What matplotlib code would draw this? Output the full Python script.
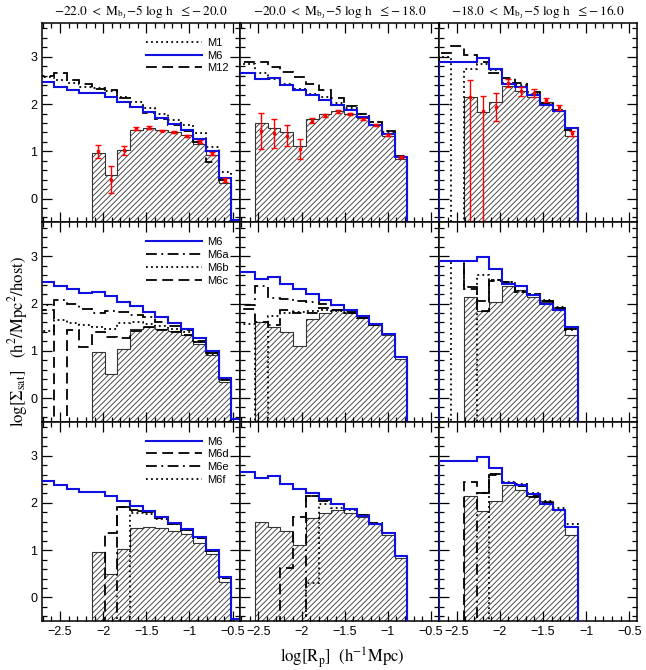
import numpy as np
import matplotlib
matplotlib.use("Agg")
import matplotlib.pyplot as plt
from matplotlib.lines import Line2D
from matplotlib.ticker import MultipleLocator, FuncFormatter

plt.rcParams["font.family"] = ["Liberation Sans", "DejaVu Sans"]
plt.rcParams["mathtext.fontset"] = "stix"
plt.rcParams["hatch.linewidth"] = 0.6

# bin edges in log R_p for each magnitude column
W = 0.147
edges0 = np.round(-2.719 + W * np.arange(17), 3)
edges1 = np.concatenate([[-2.80], np.round(-2.538 + W * np.arange(13), 3)])
edges2 = np.round(-2.71 + W * np.arange(12), 3)
EDGES = [edges0, edges1, edges2]

titles = [r"$-22.0\ <\ \mathrm{M}_{\mathrm{b_J}}\!-\!5\ \mathrm{log}\ \mathrm{h}\ \ \leq\!-20.0$",
          r"$-20.0\ <\ \mathrm{M}_{\mathrm{b_J}}\!-\!5\ \mathrm{log}\ \mathrm{h}\ \ \leq\!-18.0$",
          r"$-18.0\ <\ \mathrm{M}_{\mathrm{b_J}}\!-\!5\ \mathrm{log}\ \mathrm{h}\ \ \leq\!-16.0$"]

# -1 = below the plotted range
# hatched (data) histogram, same in every row
hatch_c0 = [-1, -1, -1, -1, 0.97, 0.5, 1.03, 1.46, 1.5, 1.46, 1.41, 1.34, 1.15, 0.92, 0.33, -1]
hatch_c1 = [-1, 1.6, 1.5, 1.4, 1.11, 1.68, 1.79, 1.86, 1.79, 1.7, 1.55, 1.33, 0.83]
hatch_c2 = [-1, -1, 2.14, 1.84, 2.04, 2.38, 2.28, 2.14, 2.04, 1.86, 1.33]

# red error bars (top row)
red_bins_c0 = [4, 5, 6, 7, 8, 9, 10, 11, 12, 13, 14]
red_y_c0 = [1.0, 0.4, 1.02, 1.48, 1.5, 1.44, 1.4, 1.32, 1.2, 0.95, 0.4]
red_lo_c0 = [0.14, 0.28, 0.1, 0.03, 0.03, 0.02, 0.02, 0.02, 0.03, 0.03, 0.04]
red_hi_c0 = red_lo_c0
red_bins_c1 = [1, 2, 3, 4, 5, 6, 7, 8, 9, 10, 11, 12]
red_y_c1 = [1.43, 1.38, 1.33, 1.05, 1.65, 1.76, 1.84, 1.79, 1.69, 1.55, 1.35, 0.88]
red_lo_c1 = [0.39, 0.3, 0.22, 0.22, 0.05, 0.04, 0.03, 0.02, 0.02, 0.02, 0.02, 0.02]
red_hi_c1 = red_lo_c1
red_bins_c2 = [2, 3, 4, 5, 6, 7, 8, 9, 10]
red_y_c2 = [2.15, 1.85, 1.94, 2.45, 2.27, 2.23, 2.08, 1.93, 1.38]
red_lo_c2 = [3.0, 3.0, 0.29, 0.08, 0.09, 0.09, 0.04, 0.05, 0.05]
red_hi_c2 = [0.35, 0.33, 0.29, 0.08, 0.09, 0.09, 0.04, 0.05, 0.05]

# model M6 (blue, every row)
m6_c0 = [2.46, 2.37, 2.3, 2.23, 2.24, 2.15, 2.04, 1.94, 1.83, 1.71, 1.58, 1.45, 1.27, 1.0, 0.43, -0.45]
m6_c1 = [2.66, 2.52, 2.56, 2.41, 2.3, 2.2, 2.08, 1.97, 1.87, 1.73, 1.56, 1.36, 0.87]
m6_c2 = [2.89, 2.89, 2.89, 2.98, 2.74, 2.42, 2.37, 2.19, 1.98, 1.86, 1.5]

# top row
m1_c0 = [2.57, 2.5, 2.44, 2.37, 2.33, 2.27, 2.14, 2.04, 1.92, 1.8, 1.67, 1.55, 1.38, 1.1, 0.57, -1]
m1_c1 = [2.85, 2.65, 2.52, 2.43, 2.32, 2.22, 2.14, 2.03, 1.92, 1.78, 1.62, 1.4, 0.88]
m1_c2 = [3.0, -1, 2.74, 2.85, 2.72, 2.45, 2.4, 2.22, 2.0, 1.88, 1.5]
m12_c0 = [2.6, 2.66, 2.5, 2.42, 2.32, 2.3, 2.12, 1.94, 1.82, 1.68, 1.56, 1.42, 1.2, 0.77, 0.4, -1]
m12_c1 = [2.88, 2.88, 2.78, 2.68, 2.58, 2.42, 2.3, 2.12, 1.95, 1.78, 1.62, 1.42, 0.9]
m12_c2 = [3.08, 3.22, 3.03, 2.9, 2.66, 2.55, 2.45, 2.25, 2.02, 1.87, 1.45]

# middle row
m6a_c0 = [1.97, 2.07, 1.98, 1.88, 1.8, 1.85, 1.82, 1.75, 1.72, 1.6, 1.52, 1.43, 1.2, 0.95, 0.4, -1]
m6a_c1 = [1.97, 2.38, 2.12, 2.1, 2.05, 2.03, 1.98, 1.87, 1.8, 1.7, 1.55, 1.35, 0.87]
m6a_c2 = [2.89, 2.89, 2.35, 2.06, 2.49, 2.45, 2.24, 2.19, 2.06, 1.91, 1.43]
m6b_c0 = [1.42, 1.65, 1.58, 1.55, 1.5, 1.45, 1.58, 1.6, 1.57, 1.52, 1.47, 1.4, 1.18, 0.93, 0.38, -1]
m6b_c1 = [1.57, -1, 1.74, 1.8, 1.82, 1.85, 1.87, 1.85, 1.8, 1.7, 1.55, 1.35, 0.86]
m6b_c2 = [2.89, -1, -1, 2.6, 2.5, 2.45, 2.27, 2.2, 2.08, 1.93, 1.45]
m6c_c0 = [1.87, -1, 1.43, 1.08, 1.39, 1.3, 1.28, 1.42, 1.5, 1.44, 1.4, 1.34, 1.18, 0.95, 0.38, -1]
m6c_c1 = [1.89, 1.6, 1.55, 1.87, 1.8, 1.8, 1.9, 1.87, 1.82, 1.7, 1.55, 1.35, 0.86]
m6c_c2 = [2.9, 2.89, 2.31, 1.85, 2.48, 2.45, 2.25, 2.2, 2.06, 1.9, 1.45]

# bottom row
m6d_c0 = [-1, -1, -1, -1, -1, 1.37, 1.92, 1.85, 1.8, 1.68, 1.55, 1.43, 1.25, 0.98, 0.42, -1]
m6d_c1 = [-1, -1, -1, 0.62, 1.7, 2.15, 2.07, 1.98, 1.88, 1.75, 1.57, 1.36, 0.87]
m6d_c2 = [-1, -1, 2.45, 2.2, 2.62, 2.43, 2.38, 2.15, 2.0, 1.85, 1.5]
m6e_c0 = [-1, -1, -1, -1, -1, -1, 1.92, 1.82, 1.8, 1.68, 1.55, 1.43, 1.25, 0.98, 0.42, -1]
m6e_c1 = [-1, -1, -1, -1, -1, 2.15, 2.05, 1.98, 1.88, 1.75, 1.57, 1.36, 0.87]
m6e_c2 = [-1, -1, -1, 2.2, 2.6, 2.42, 2.36, 2.13, 2.0, 1.86, 1.5]
m6f_c0 = [-1, -1, -1, -1, -1, -1, -1, 1.78, 1.76, 1.66, 1.55, 1.43, 1.25, 0.98, 0.42, -1]
m6f_c1 = [-1, -1, -1, -1, -1, 0.3, 1.97, 1.9, 1.85, 1.75, 1.57, 1.36, 0.87]
m6f_c2 = [-1, -1, -1, -1, 2.62, 2.45, 2.4, 2.2, 2.04, 1.9, 1.55]

hatched = [hatch_c0, hatch_c1, hatch_c2]
red = [(red_bins_c0, red_y_c0, red_lo_c0, red_hi_c0),
       (red_bins_c1, red_y_c1, red_lo_c1, red_hi_c1),
       (red_bins_c2, red_y_c2, red_lo_c2, red_hi_c2)]
m6 = [m6_c0, m6_c1, m6_c2]

DOT = (0, (1, 1.8))
DASH = (0, (6, 3))
DDOT = (0, (6, 2.5, 1, 2.5))

# black model curves per row: (label, values per column, linestyle)
rows = [
    [("M1", [m1_c0, m1_c1, m1_c2], DOT), ("M12", [m12_c0, m12_c1, m12_c2], DASH)],
    [("M6a", [m6a_c0, m6a_c1, m6a_c2], DDOT), ("M6b", [m6b_c0, m6b_c1, m6b_c2], DOT),
     ("M6c", [m6c_c0, m6c_c1, m6c_c2], DASH)],
    [("M6d", [m6d_c0, m6d_c1, m6d_c2], DASH), ("M6e", [m6e_c0, m6e_c1, m6e_c2], DDOT),
     ("M6f", [m6f_c0, m6f_c1, m6f_c2], DOT)],
]

fig, axes = plt.subplots(3, 3, figsize=(6.46, 6.70), dpi=100)
fig.subplots_adjust(left=0.065, right=0.986, top=0.966, bottom=0.073, wspace=0, hspace=0)

fmt = FuncFormatter(lambda v, p: f"{v:g}".replace("-", "\u2212"))

for r in range(3):
    for c in range(3):
        ax = axes[r, c]
        e = EDGES[c]
        ax.stairs(hatched[c], e, baseline=-1, fill=True, facecolor="white",
                  edgecolor="0.2", hatch="//////", linewidth=0, zorder=1)
        ax.stairs(hatched[c], e, baseline=-1, color="0.2", lw=0.8, zorder=2)
        for lab, vals, ls in rows[r]:
            ax.stairs(vals[c], e, baseline=-1, color="black", lw=1.3, linestyle=ls, zorder=3)
        ax.stairs(m6[c], e, baseline=-1, color="#1010e0", lw=1.5, zorder=4)
        if r == 0:
            bins, y, lo, hi = red[c]
            xc = [(e[i] + e[i + 1]) / 2 for i in bins]
            ax.errorbar(xc, y, yerr=[lo, hi], fmt="s", ms=1.5, color="red", ecolor="red",
                        elinewidth=1, capsize=2.5, capthick=1, zorder=5)
            ax.set_title(titles[c], fontsize=9.5, pad=5)

        ax.set_xlim(-2.71, -0.41)
        ax.set_ylim(-0.5, 3.72)
        ax.xaxis.set_major_locator(MultipleLocator(0.5))
        ax.xaxis.set_minor_locator(MultipleLocator(0.1))
        ax.yaxis.set_major_locator(MultipleLocator(1))
        ax.yaxis.set_minor_locator(MultipleLocator(0.2))
        ax.xaxis.set_major_formatter(fmt)
        ax.yaxis.set_major_formatter(fmt)
        ax.tick_params(which="both", direction="in", top=True, right=True, width=0.9,
                       labelsize=9)
        ax.tick_params(which="major", length=7)
        ax.tick_params(which="minor", length=3.5)
        for s in ax.spines.values():
            s.set_linewidth(1.1)
        if r < 2:
            ax.tick_params(labelbottom=False)
        if c > 0:
            ax.tick_params(labelleft=False)

    # legend in the left panel of each row
    handles = [Line2D([], [], color="#1010e0", lw=1.5)]
    labels = ["M6"]
    for lab, vals, ls in rows[r]:
        handles.append(Line2D([], [], color="black", lw=1.3, linestyle=ls))
        labels.append(lab)
    if r == 0:
        handles = [handles[1], handles[0], handles[2]]
        labels = [labels[1], labels[0], labels[2]]
    axes[r, 0].legend(handles, labels, loc="upper left", bbox_to_anchor=(0.525, 0.925),
                      frameon=False, fontsize=8, handlelength=5, handletextpad=0.45,
                      labelspacing=0.25, borderpad=0, borderaxespad=0)

fig.text(0.028, 0.49, r"$\log[\Sigma_{\rm sat}]$   (h$^2$/Mpc$^2$/host)", rotation=90,
         ha="center", va="center", fontsize=12, family="STIXGeneral")
fig.text(0.53, 0.018, r"$\log[{\rm R_p}]$  (h$^{-1}$Mpc)", ha="center", va="center",
         fontsize=12, family="STIXGeneral")

fig.savefig("out.png", dpi=100)
